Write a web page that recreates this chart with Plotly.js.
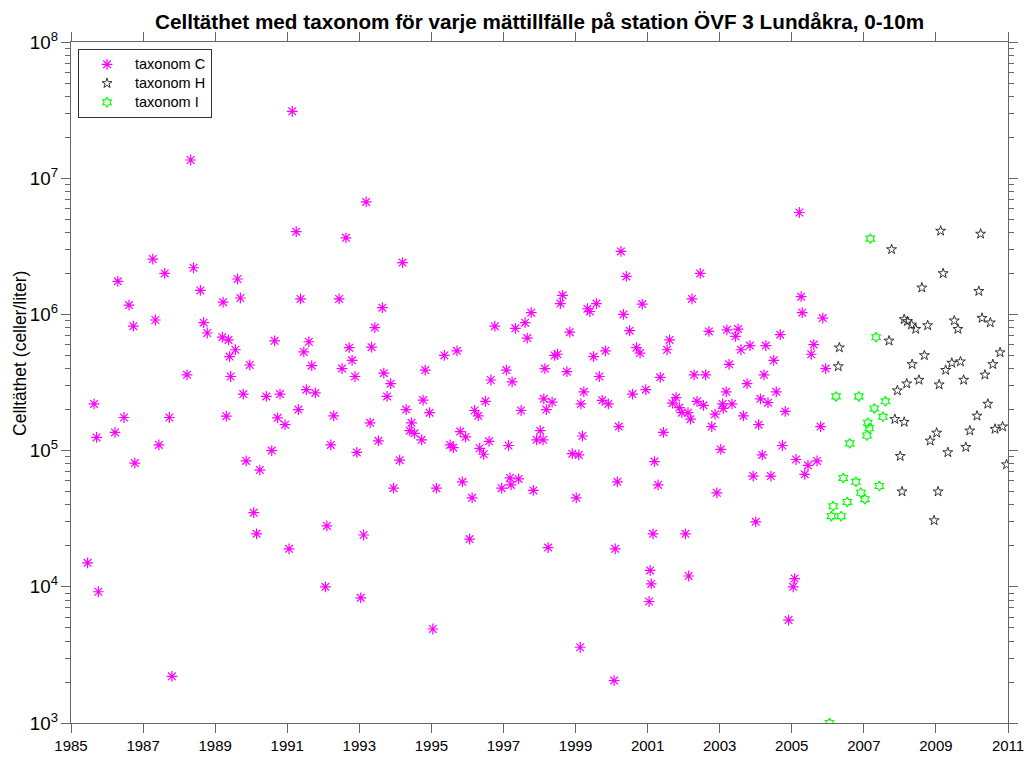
<!DOCTYPE html>
<html>
<head>
<meta charset="utf-8">
<script src="https://cdn.plot.ly/plotly-3.0.1.min.js"></script>
<style>html,body{margin:0;padding:0;background:#fff;}#chart{width:1029px;height:758px;}</style>
</head>
<body>
<div id="chart"></div>
<script>
// taxonom C (magenta asterisks)
const yearsC = [
1985.46,1985.64,1985.71,1985.76,1986.22,1986.30,1986.47,1986.61,1986.73,1986.77,
1987.27,1987.34,1987.44,1987.60,1987.73,1987.80,1988.22,1988.32,1988.40,1988.59,
1988.68,1988.78,1989.20,1989.22,1989.31,1989.37,1989.40,1989.43,1989.56,1989.62,
1989.70,
1989.78,1989.86,1989.96,1990.07,1990.15,1990.24,1990.42,1990.57,1990.65,1990.73,
1990.80,1990.94,1991.05,1991.14,1991.25,1991.31,1991.37,1991.46,1991.53,1991.60,
1991.68,1991.78,1992.06,1992.10,1992.21,1992.29,1992.44,1992.52,1992.63,1992.72,
1992.80,1992.88,1992.93,1993.04,1993.12,1993.19,1993.30,1993.34,1993.43,1993.53,
1993.64,1993.68,1993.77,1993.87,1993.95,1994.12,
1994.20,1994.30,1994.40,1994.45,1994.53,1994.73,1994.77,1994.83,1994.95,1995.04,
1995.14,1995.36,1995.52,1995.61,1995.71,1995.80,1995.86,1995.95,1996.06,1996.13,
1996.20,1996.30,1996.34,1996.45,1996.50,1996.60,1996.65,1996.76,1996.95,1997.08,
1997.14,1997.18,1997.21,1997.24,1997.33,1997.42,1997.49,1997.60,1997.66,1997.77,
1997.83,1997.92,1998.02,1998.10,1998.12,1998.15,1998.19,1998.24,1998.35,1998.42,
1998.50,1998.58,1998.64,
1998.76,1998.84,1998.91,1999.02,1999.09,1999.13,1999.15,1999.19,1999.23,1999.33,
1999.40,1999.50,1999.58,1999.66,1999.74,1999.83,1999.91,2000.07,2000.10,2000.16,
2000.20,2000.26,2000.33,2000.41,2000.50,2000.58,2000.69,2000.79,2000.85,2000.95,
2001.04,2001.07,2001.10,2001.15,2001.19,2001.29,2001.35,2001.44,2001.54,2001.61,
2001.69,2001.79,2001.88,2001.95,2002.05,2002.12,2002.14,2002.19,2002.23,2002.29,
2002.37,2002.46,2002.55,2002.61,2002.70,2002.78,2002.87,2002.92,2003.03,
2003.08,2003.10,2003.18,2003.20,2003.26,2003.34,2003.44,2003.51,2003.59,2003.66,
2003.76,2003.84,2003.93,2004.00,2004.08,2004.13,2004.18,2004.23,2004.28,2004.34,
2004.42,2004.50,2004.57,2004.68,2004.74,2004.82,2004.91,2005.04,2005.08,2005.12,
2005.21,2005.26,2005.29,2005.36,2005.45,2005.54,2005.61,2005.70,2005.80,2005.86,
2005.94
];
const valuesC = [
1.5e4,2.2e5,1.25e5,9.2e3,1.36e5,1.75e6,1.75e5,1.17e6,8.2e5,8.1e4,
2.55e6,9.1e5,1.1e5,2.0e6,1.75e5,2.2e3,3.6e5,1.36e7,2.2e6,1.5e6,
8.7e5,7.3e5,6.8e5,1.23e6,1.79e5,6.5e5,4.9e5,3.5e5,5.5e5,1.82e6,
1.32e6,
2.6e5,8.4e4,4.25e5,3.5e4,2.45e4,7.2e4,2.5e5,1.0e5,6.4e5,1.74e5,
2.6e5,1.55e5,1.9e4,3.1e7,4.05e6,2.0e5,1.3e6,5.3e5,2.8e5,6.3e5,
4.2e5,2.65e5,1.0e4,2.8e4,1.1e5,1.8e5,1.3e6,4.0e5,3.65e6,5.7e5,
4.6e5,3.5e5,9.7e4,8.3e3,2.4e4,6.7e6,1.6e5,5.75e5,8.0e5,1.18e5,
1.12e6,3.7e5,2.5e5,3.1e5,5.3e4,8.5e4,
2.4e6,2.0e5,1.4e5,1.6e5,1.34e5,1.2e5,2.35e5,3.9e5,1.9e5,4.9e3,
5.3e4,5.0e5,1.1e5,1.05e5,5.4e5,1.38e5,5.9e4,1.26e5,2.24e4,4.5e4,
1.97e5,1.8e5,1.04e5,9.4e4,2.3e5,1.17e5,3.3e5,8.2e5,5.3e4,3.9e5,
1.09e5,6.3e4,5.6e4,3.2e5,7.9e5,6.2e4,1.97e5,8.7e5,6.7e5,1.03e6,
5.1e4,1.2e5,1.4e5,1.2e5,2.4e5,4.0e5,2.0e5,1.94e4,2.27e5,5.0e5,
5.1e5,1.2e6,1.38e6,
3.8e5,7.4e5,9.5e4,4.5e4,9.3e4,3.6e3,2.2e5,1.28e5,2.7e5,1.1e6,
1.05e6,4.9e5,1.2e6,3.5e5,2.34e5,5.4e5,2.2e5,2.05e3,1.9e4,5.9e4,
1.5e5,2.9e6,1.0e6,1.9e6,7.6e5,2.6e5,5.7e5,5.2e5,1.19e6,2.8e5,
7.8e3,1.32e4,1.05e4,2.45e4,8.3e4,5.6e4,3.45e5,1.36e5,5.5e5,6.5e5,
2.23e5,2.45e5,2.07e5,1.9e5,2.45e4,1.9e5,1.2e4,1.7e5,1.3e6,3.6e5,
2.3e5,2.0e6,2.15e5,3.6e5,7.5e5,1.5e5,1.85e5,4.9e4,1.02e5,
2.2e5,2.04e5,2.7e5,7.7e5,4.3e5,2.2e5,6.9e5,7.8e5,5.5e5,1.8e5,
3.1e5,5.9e5,6.5e4,3.0e4,1.55e5,2.4e5,9.3e4,3.6e5,5.9e5,2.25e5,
6.5e4,4.6e5,2.7e5,7.1e5,1.09e5,1.94e5,5.7e3,1.0e4,1.15e4,8.6e4,
5.6e6,1.35e6,1.03e6,6.7e4,7.8e4,5.1e5,6.0e5,8.4e4,1.5e5,9.4e5,
4.0e5
];

// taxonom H (black pentagrams)
const yearsH = [
2006.29,2006.32,2007.70,2007.77,2007.86,2007.93,2008.01,2008.06,2008.12,2008.12,
2008.19,2008.21,2008.32,2008.34,2008.44,2008.53,2008.61,2008.68,2008.77,2008.84,
2008.95,2009.02,2009.06,2009.09,2009.13,2009.20,2009.27,2009.33,2009.44,2009.51,
2009.61,2009.68,2009.77,2009.83,2009.94,2010.14,2010.19,2010.24,2010.28,2010.36,
2010.44,2010.51,2010.58,2010.64,2010.78,2010.85,2010.96
];
const valuesH = [
4.15e5,5.7e5,6.4e5,3.0e6,1.7e5,2.76e5,9.1e4,5.0e4,9.2e5,1.62e5,
3.1e5,8.9e5,8.4e5,4.3e5,7.8e5,3.3e5,1.57e6,5.0e5,8.3e5,1.18e5,
3.07e4,1.35e5,5.0e4,3.05e5,4.1e6,2.0e6,3.9e5,9.7e4,4.4e5,9.0e5,
7.8e5,4.5e5,3.3e5,1.06e5,1.4e5,1.8e5,1.48e6,3.9e6,9.4e5,3.6e5,
2.2e5,8.7e5,4.3e5,1.44e5,5.25e5,1.5e5,7.9e4
];

// taxonom I (green hexagrams)
const yearsI = [
2006.05,2006.10,2006.15,2006.23,2006.37,2006.43,2006.54,2006.61,2006.78,2006.86,
2006.92,2007.03,2007.09,2007.11,2007.15,2007.18,2007.29,2007.34,2007.43,2007.53,
2007.60
];
const valuesI = [
1.0e3,3.3e4,3.9e4,2.5e5,3.3e4,6.3e4,4.2e4,1.13e5,5.9e4,2.5e5,
4.9e4,4.4e4,1.29e5,1.6e5,1.46e5,3.6e6,2.04e5,6.8e5,5.5e4,1.77e5,
2.3e5
];

const seriesNames = ['taxonom C', 'taxonom H', 'taxonom I'];
const xTickVals = [1985,1987,1989,1991,1993,1995,1997,1999,2001,2003,2005,2007,2009,2011];
const yTitle = 'Celltäthet (celler/liter)';
const chartTitle = 'Celltäthet med taxonom för varje mättillfälle på station ÖVF 3 Lundåkra, 0-10m';

const FONT = 'Arial, Liberation Sans, sans-serif';
const legendName = n => '<span style="font-size:14.5px">' + n + '</span>';

const traces = [
  {x: yearsC, y: valuesC, name: legendName(seriesNames[0]), type: 'scatter', mode: 'markers',
   marker: {symbol: 'asterisk-open', size: 9, color: '#FF00FF', line: {color: '#FF00FF', width: 1.2}}},
  {x: yearsH, y: valuesH, name: legendName(seriesNames[1]), type: 'scatter', mode: 'markers',
   marker: {symbol: 'star-open', size: 7.5, color: '#333333', line: {color: '#333333', width: 1}}},
  {x: yearsI, y: valuesI, name: legendName(seriesNames[2]), type: 'scatter', mode: 'markers',
   marker: {symbol: 'hexagram-open', size: 7.5, color: '#00FF00', line: {color: '#00FF00', width: 1.1}}}
];

const axisCommon = {
  showline: true, linecolor: '#666', linewidth: 1, mirror: 'allticks',
  ticks: 'outside', ticklen: 9, tickcolor: '#666', tickwidth: 1,
  showgrid: false, zeroline: false,
  tickfont: {family: FONT, size: 15, color: '#000'}
};

const layout = {
  width: 1029, height: 758,
  margin: {l: 71, r: 21, t: 42, b: 35, pad: 0},
  paper_bgcolor: '#fff', plot_bgcolor: '#fff',
  title: {text: '<b>' + chartTitle + '</b>',
          font: {family: FONT, size: 20.7, color: '#000'},
          xref: 'paper', x: 0.5, xanchor: 'center', yref: 'container', y: 0.971, yanchor: 'middle'},
  xaxis: Object.assign({}, axisCommon, {
    range: [1985, 2011], tickmode: 'array', tickvals: xTickVals, ticktext: xTickVals.map(String)
  }),
  yaxis: Object.assign({}, axisCommon, {
    type: 'log', range: [3, 8], dtick: 1, exponentformat: 'power',
    minor: {ticks: 'outside', ticklen: 5, tickcolor: '#666', dtick: 'D1', showgrid: false}
  }),
  annotations: [{
    text: yTitle, xref: 'paper', yref: 'paper', x: -0.0544, y: 0.5419,
    xanchor: 'center', yanchor: 'middle', textangle: -90, showarrow: false,
    font: {family: FONT, size: 17.5, color: '#000'}
  }],
  showlegend: true,
  legend: {x: 0.0075, y: 0.99, xanchor: 'left', yanchor: 'top', bgcolor: '#fff',
           bordercolor: '#333', borderwidth: 1, tracegroupgap: 0, itemwidth: 46,
           font: {family: FONT, size: 12, color: '#000'}}
};

Plotly.newPlot('chart', traces, layout, {displayModeBar: false, staticPlot: true});
</script>
</body>
</html>
